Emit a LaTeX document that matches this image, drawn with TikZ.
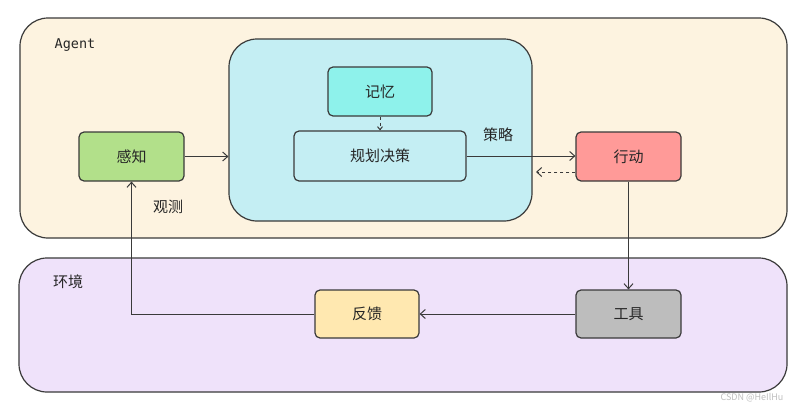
\documentclass[tikz,border=0pt]{standalone}
\usepackage{fontspec}
\setmainfont{Noto Sans CJK SC}
\newfontfamily\cjk{Noto Sans CJK SC}
\newfontfamily\monof{DejaVu Sans Mono}
\usetikzlibrary{arrows.meta}
\definecolor{linec}{HTML}{3A3A3A}
\definecolor{agentfill}{HTML}{FDF3E0}
\definecolor{envfill}{HTML}{EFE2FA}
\definecolor{innerfill}{HTML}{C4EEF3}
\definecolor{memfill}{HTML}{8EF2EB}
\definecolor{percfill}{HTML}{B2E08A}
\definecolor{actfill}{HTML}{FF9A98}
\definecolor{toolfill}{HTML}{BDBDBD}
\definecolor{fbfill}{HTML}{FFE8B0}
\tikzset{
  container/.style={draw=linec, line width=1.2pt, rounded corners=28pt, inner sep=0pt},
  blk/.style={draw=linec, line width=1.2pt, rounded corners=5pt, inner sep=0pt, font=\cjk\fontsize{15}{17}\selectfont, text=black!85},
  lbl/.style={font=\cjk\fontsize{15}{17}\selectfont, text=black!85, inner sep=0pt},
  conn/.style={draw=linec, line width=1pt, -{Straight Barb[length=5pt,width=9pt]}},
}
\begin{document}
\begin{tikzpicture}[x=1pt,y=-1pt]
\useasboundingbox[fill=white] (0,0) rectangle (807,407);
% containers
\node[container, fill=agentfill, minimum width=767pt, minimum height=220pt] (agent) at (403.5,128) {};
\node[container, fill=envfill, minimum width=768pt, minimum height=134pt] (env) at (403,325) {};
\node[container, fill=innerfill, minimum width=303pt, minimum height=182pt] (inner) at (380.5,130) {};
% labels
\node[lbl, font=\monof\fontsize{13.5}{15}\selectfont] (agentlbl) at (75,45) {Agent};
\node[lbl] (envlbl) at (68,282) {环境};
\node[lbl] (obs) at (168,207) {观测};
\node[lbl] (strat) at (498,135) {策略};
% blocks
\node[blk, fill=memfill, minimum width=104pt, minimum height=49pt] (mem) at (380,91.5) {记忆};
\node[blk, fill=innerfill, minimum width=172pt, minimum height=50pt] (plan) at (380,156) {规划决策};
\node[blk, fill=percfill, minimum width=105pt, minimum height=49pt] (perc) at (131.5,156.5) {感知};
\node[blk, fill=actfill, minimum width=105pt, minimum height=49pt] (act) at (628.5,156.5) {行动};
\node[blk, fill=toolfill, minimum width=105pt, minimum height=48pt] (tool) at (628.5,314) {工具};
\node[blk, fill=fbfill, minimum width=104pt, minimum height=48pt] (fb) at (367,314) {反馈};
% connectors
\draw[conn] (perc.east) -- (inner.west |- perc.east);
\draw[conn, dashed, -{Straight Barb[length=3pt,width=5pt]}] (mem.south) -- (plan.north);
\draw[conn] (plan.east) -- (act.west |- plan.east);
\coordinate (dashend) at (536,172);
\draw[conn, dashed] (act.west |- dashend) -- (dashend);
\draw[conn] (act.south) -- (tool.north);
\draw[conn] (tool.west) -- (fb.east);
\draw[conn] (fb.west) -- (perc.south |- fb.west) -- (perc.south);
% watermark
\node[font=\fontsize{9}{10}\selectfont, text=black!25, inner sep=0pt] (wm) at (752,398) {CSDN @HeIlHu};
\end{tikzpicture}
\end{document}
